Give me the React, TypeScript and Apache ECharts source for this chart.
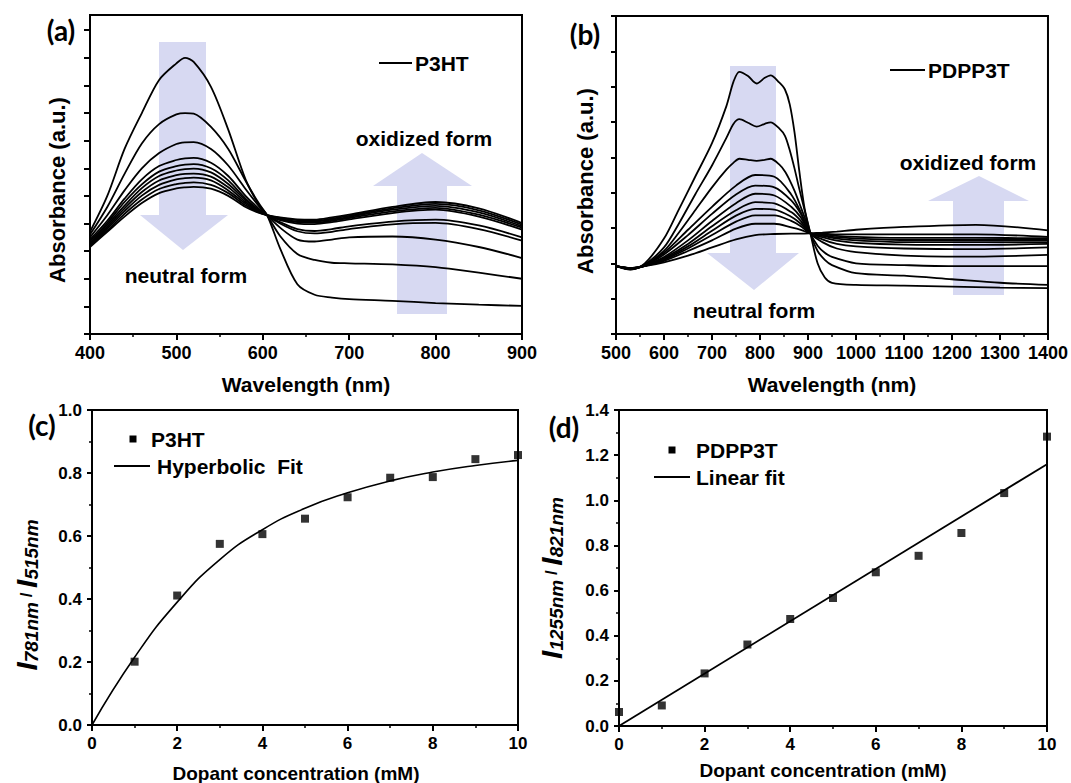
import React, { useEffect, useRef } from "react";
import * as echarts from "echarts";

// ---------- Panel (a): P3HT absorption spectra (arbitrary units, tick = 1) ----------
const waveA = [400, 420, 440, 460, 480, 500, 510, 520, 540, 560, 580, 595, 605, 620, 640, 660, 680, 700, 750, 800, 850, 900];
const p3ht1 = [3.7, 5.0, 6.7, 8.0, 9.2, 9.8, 10.0, 9.85, 8.95, 7.4, 5.6, 4.7, 4.3, 3.1, 1.8, 1.42, 1.32, 1.26, 1.2, 1.12, 1.06, 1.02];
const p3ht2 = [3.6, 4.6, 5.8, 6.9, 7.6, 7.95, 8.0, 7.98, 7.5, 6.7, 5.55, 4.75, 4.3, 3.55, 2.9, 2.68, 2.58, 2.56, 2.52, 2.42, 2.22, 2.0];
const p3ht3 = [3.5, 4.3, 5.2, 6.0, 6.55, 6.88, 6.94, 6.95, 6.7, 6.1, 5.25, 4.65, 4.3, 3.85, 3.42, 3.35, 3.42, 3.5, 3.53, 3.42, 3.15, 2.75];
const p3ht4 = [3.42, 4.1, 4.9, 5.6, 6.08, 6.3, 6.36, 6.38, 6.2, 5.72, 5.0, 4.55, 4.3, 4.0, 3.72, 3.64, 3.7, 3.8, 3.97, 4.02, 3.8, 3.38];
const p3ht5 = [3.36, 4.02, 4.78, 5.42, 5.88, 6.08, 6.13, 6.15, 6.0, 5.56, 4.9, 4.5, 4.3, 4.05, 3.8, 3.73, 3.8, 3.9, 4.07, 4.14, 3.93, 3.5];
const p3ht6 = [3.3, 3.95, 4.65, 5.28, 5.72, 5.92, 5.97, 5.99, 5.85, 5.43, 4.85, 4.48, 4.3, 4.12, 4.0, 3.98, 4.05, 4.15, 4.38, 4.5, 4.25, 3.78];
const p3ht7 = [3.26, 3.88, 4.55, 5.14, 5.56, 5.75, 5.8, 5.81, 5.7, 5.31, 4.78, 4.45, 4.3, 4.15, 4.05, 4.03, 4.1, 4.2, 4.44, 4.57, 4.32, 3.85];
const p3ht8 = [3.22, 3.82, 4.45, 5.01, 5.4, 5.6, 5.64, 5.66, 5.56, 5.2, 4.72, 4.43, 4.3, 4.17, 4.08, 4.07, 4.14, 4.24, 4.5, 4.64, 4.4, 3.9];
const p3ht9 = [3.18, 3.75, 4.35, 4.87, 5.25, 5.43, 5.47, 5.49, 5.4, 5.1, 4.66, 4.41, 4.3, 4.2, 4.12, 4.1, 4.18, 4.28, 4.55, 4.71, 4.48, 3.96];
const p3ht10 = [3.15, 3.7, 4.25, 4.74, 5.1, 5.27, 5.31, 5.33, 5.26, 5.0, 4.6, 4.39, 4.3, 4.22, 4.15, 4.14, 4.22, 4.32, 4.6, 4.78, 4.55, 4.02];
const p3htCurves = [p3ht1, p3ht2, p3ht3, p3ht4, p3ht5, p3ht6, p3ht7, p3ht8, p3ht9, p3ht10];
const absTicksA = [0, 1, 2, 3, 4, 5, 6, 7, 8, 9, 10, 11];

// ---------- Panel (b): PDPP3T absorption spectra ----------
const waveB1 = [500, 530, 560, 600, 630, 665, 700, 730, 745, 757, 775, 793, 810, 822, 840, 852, 862, 872, 882, 893, 905, 920, 935, 950, 1000, 1100, 1200, 1300, 1400];
const pdpp1 = [1.92, 1.82, 2.0, 2.7, 3.5, 4.45, 5.4, 6.45, 7.15, 7.42, 7.3, 7.09, 7.25, 7.32, 7.12, 6.92, 6.5, 5.7, 4.6, 3.55, 2.85, 2.0, 1.6, 1.45, 1.39, 1.37, 1.34, 1.31, 1.3];
const pdpp2 = [1.94, 1.83, 1.97, 2.45, 3.1, 3.95, 4.77, 5.55, 5.95, 6.08, 5.98, 5.87, 5.95, 5.99, 5.82, 5.61, 5.2, 4.68, 4.1, 3.5, 2.85, 2.35, 2.1, 1.95, 1.72, 1.65, 1.55, 1.45, 1.39];
const pdpp3 = [1.93, 1.84, 1.96, 2.35, 2.85, 3.5, 4.15, 4.65, 4.85, 4.96, 4.93, 4.9, 4.93, 4.96, 4.8, 4.6, 4.35, 4.05, 3.7, 3.3, 2.85, 2.5, 2.3, 2.18, 2.0, 1.95, 1.92, 1.92, 1.92];
const waveB = [500, 530, 560, 600, 650, 700, 750, 790, 830, 865, 885, 905, 930, 960, 1000, 1100, 1250, 1400];
const pdpp4 = [1.92, 1.84, 1.95, 2.3, 2.95, 3.6, 4.2, 4.5, 4.45, 3.95, 3.45, 2.85, 2.6, 2.42, 2.32, 2.22, 2.19, 2.24];
const pdpp5 = [1.92, 1.85, 1.94, 2.25, 2.8, 3.4, 3.95, 4.2, 4.15, 3.78, 3.4, 2.85, 2.68, 2.55, 2.48, 2.42, 2.4, 2.45];
const pdpp6 = [1.92, 1.85, 1.93, 2.18, 2.65, 3.2, 3.7, 3.97, 3.92, 3.6, 3.3, 2.85, 2.74, 2.64, 2.58, 2.53, 2.52, 2.55];
const pdpp7 = [1.92, 1.86, 1.93, 2.15, 2.55, 3.05, 3.5, 3.73, 3.7, 3.45, 3.2, 2.85, 2.78, 2.7, 2.65, 2.6, 2.6, 2.6];
const pdpp8 = [1.92, 1.86, 1.93, 2.12, 2.48, 2.92, 3.35, 3.54, 3.52, 3.32, 3.12, 2.85, 2.8, 2.74, 2.7, 2.66, 2.66, 2.66];
const pdpp9 = [1.92, 1.86, 1.93, 2.1, 2.42, 2.8, 3.18, 3.36, 3.36, 3.2, 3.05, 2.85, 2.82, 2.78, 2.75, 2.72, 2.72, 2.71];
const pdpp10 = [1.92, 1.87, 1.93, 2.07, 2.35, 2.65, 2.98, 3.12, 3.12, 3.02, 2.95, 2.85, 2.84, 2.82, 2.82, 2.82, 2.82, 2.75];
const pdpp11 = [1.92, 1.87, 1.92, 2.03, 2.22, 2.45, 2.68, 2.8, 2.83, 2.84, 2.84, 2.85, 2.87, 2.9, 2.95, 3.03, 3.09, 2.93];
const pdppDetailed = [pdpp1, pdpp2, pdpp3];
const pdppCoarse = [pdpp4, pdpp5, pdpp6, pdpp7, pdpp8, pdpp9, pdpp10, pdpp11];

// ---------- Panel (c): I781/I515 vs dopant ----------
const concC = [1, 2, 3, 4, 5, 6, 7, 8, 9, 10];
const ratioC = [0.201, 0.411, 0.575, 0.606, 0.655, 0.723, 0.785, 0.787, 0.844, 0.857];
const fitCx = [0, 1, 2, 3, 4, 5, 6, 7, 8, 9, 10];
const fitCy = [0.0, 0.215, 0.39, 0.525, 0.62, 0.688, 0.737, 0.775, 0.803, 0.824, 0.84];

// ---------- Panel (d): I1255/I821 vs dopant ----------
const concD = [0, 1, 2, 3, 4, 5, 6, 7, 8, 9, 10];
const ratioD = [0.062, 0.091, 0.233, 0.361, 0.474, 0.567, 0.681, 0.754, 0.855, 1.032, 1.282];
const fitDx = [0, 10];
const fitDy = [0.0, 1.16];

const FONT = "'Liberation Sans', Arial, Helvetica, sans-serif";
const PANEL_FONT = "Lato, 'Open Sans', sans-serif";
const ARROW = "#d7d9f2";

const zip = (xs: number[], ys: number[]) => xs.map((x, i) => [x, ys[i]]);

function xAxisCfg(gridIndex: number, min: number, max: number, interval: number, fontSize: number) {
  return {
    type: "value", gridIndex, min, max, interval,
    axisLine: { lineStyle: { color: "#000", width: 2 } },
    axisTick: { length: 6, lineStyle: { color: "#000", width: 2 } },
    minorTick: { show: true, splitNumber: 2, length: 3, lineStyle: { color: "#000", width: 1.5 } },
    splitLine: { show: false },
    axisLabel: { color: "#000", fontSize, fontWeight: "bold", fontFamily: FONT, margin: 10, formatter: (v: number) => `${v}` },
  };
}

function yAxisCfg(gridIndex: number, min: number, max: number, interval: number, labels: boolean, customTicks?: number[]) {
  return {
    type: "value", gridIndex, min, max, interval,
    axisLine: { show: true, lineStyle: { color: "#000", width: 2 } },
    axisTick: customTicks
      ? { show: true, length: 6, lineStyle: { color: "#000", width: 2 }, customValues: customTicks }
      : { show: true, length: 5, lineStyle: { color: "#000", width: 2 } },
    minorTick: labels ? { show: true, splitNumber: 2, length: 3, lineStyle: { color: "#000", width: 1.5 } } : { show: false },
    splitLine: { show: false },
    axisLabel: labels
      ? { show: true, color: "#000", fontSize: 17, fontWeight: "bold", fontFamily: FONT, margin: 10, formatter: (v: number) => v.toFixed(1) }
      : { show: false },
  };
}

function txt(text: string, x: number, y: number, size: number, opts: any = {}) {
  return {
    type: "text", x, y, z: 20, rotation: opts.rotation || 0,
    style: {
      text, fill: "#000", fontSize: size, fontWeight: "bold", fontFamily: opts.family || FONT,
      align: opts.align || "center", verticalAlign: "middle",
    },
  };
}

function hline(x1: number, x2: number, y: number) {
  return { type: "line", z: 20, shape: { x1, y1: y, x2, y2: y }, style: { stroke: "#000", lineWidth: 2 } };
}

function square(cx: number, cy: number, s: number) {
  return { type: "rect", z: 20, shape: { x: cx - s / 2, y: cy - s / 2, width: s, height: s }, style: { fill: "#000" } };
}

function arrowDown(x1: number, x2: number, top: number, hx1: number, hx2: number, base: number, tipX: number, tipY: number) {
  return {
    type: "polygon", z: 0,
    shape: { points: [[x1, top], [x2, top], [x2, base], [hx2, base], [tipX, tipY], [hx1, base], [x1, base]] },
    style: { fill: ARROW },
  };
}

function arrowUp(x1: number, x2: number, bottom: number, hx1: number, hx2: number, base: number, tipX: number, tipY: number) {
  return {
    type: "polygon", z: 0,
    shape: { points: [[x1, bottom], [x2, bottom], [x2, base], [hx2, base], [tipX, tipY], [hx1, base], [x1, base]] },
    style: { fill: ARROW },
  };
}

function ratioTitle(x: number, y: number, sub1: string, sub2: string) {
  const base = { fontFamily: FONT, fontWeight: "bold", fontStyle: "italic", fill: "#000" };
  return {
    type: "text", x, y, z: 20, rotation: Math.PI / 2,
    style: {
      text: `{i|I}{s|${sub1}}{sl| / }{i|I}{s|${sub2}}`,
      align: "center", verticalAlign: "middle",
      rich: {
        i: { ...base, fontSize: 30, lineHeight: 30 },
        s: { ...base, fontSize: 19, lineHeight: 12, verticalAlign: "bottom" },
        sl: { ...base, fontStyle: "normal", fontSize: 17, lineHeight: 30, verticalAlign: "middle" },
      },
    },
  };
}

function buildOption() {
  const lineBase = { type: "line", showSymbol: false, smooth: 0.3, silent: true, lineStyle: { color: "#000", width: 1.8 }, z: 2 };
  const series: any[] = [];
  p3htCurves.forEach((c, i) =>
    series.push({ ...lineBase, name: `P3HT ${i + 1}`, xAxisIndex: 0, yAxisIndex: 0, data: zip(waveA, c) })
  );
  pdppDetailed.forEach((c, i) =>
    series.push({ ...lineBase, name: `PDPP3T ${i + 1}`, xAxisIndex: 1, yAxisIndex: 1, data: zip(waveB1, c) })
  );
  pdppCoarse.forEach((c, i) =>
    series.push({ ...lineBase, name: `PDPP3T ${i + 4}`, xAxisIndex: 1, yAxisIndex: 1, data: zip(waveB, c) })
  );
  series.push({ ...lineBase, name: "Hyperbolic Fit", smooth: 0.5, lineStyle: { color: "#000", width: 1.6 }, xAxisIndex: 2, yAxisIndex: 2, data: zip(fitCx, fitCy) });
  series.push({ type: "scatter", name: "P3HT", symbol: "rect", symbolSize: 8, itemStyle: { color: "#000" }, xAxisIndex: 2, yAxisIndex: 2, data: zip(concC, ratioC), z: 3 });
  series.push({ ...lineBase, name: "Linear fit", smooth: false, lineStyle: { color: "#000", width: 1.8 }, xAxisIndex: 3, yAxisIndex: 3, data: zip(fitDx, fitDy) });
  series.push({ type: "scatter", name: "PDPP3T", symbol: "rect", symbolSize: 8, itemStyle: { color: "#000" }, xAxisIndex: 3, yAxisIndex: 3, data: zip(concD, ratioD), z: 3 });

  const gridBase = { show: true, borderColor: "#000", borderWidth: 2, backgroundColor: "transparent", containLabel: false };

  return {
    animation: false,
    backgroundColor: "#fff",
    grid: [
      { ...gridBase, left: 90, top: 15, width: 432, height: 319 },
      { ...gridBase, left: 616, top: 16, width: 432, height: 318 },
      { ...gridBase, left: 92, top: 410, width: 426, height: 315 },
      { ...gridBase, left: 619, top: 410, width: 428, height: 316 },
    ],
    xAxis: [
      xAxisCfg(0, 400, 900, 100, 18),
      xAxisCfg(1, 500, 1400, 100, 18),
      xAxisCfg(2, 0, 10, 2, 17),
      xAxisCfg(3, 0, 10, 2, 17),
    ],
    yAxis: [
      yAxisCfg(0, 0, 11.55, 1, false, absTicksA),
      yAxisCfg(1, 0, 9, 1, false),
      yAxisCfg(2, 0, 1.0, 0.2, true),
      yAxisCfg(3, 0, 1.4, 0.2, true),
    ],
    series,
    graphic: [
      // arrows
      arrowDown(159, 206, 42, 140, 228, 215, 183, 250),
      arrowUp(397, 447, 314, 373, 472, 186, 422, 153),
      arrowDown(730, 776, 66, 707, 799, 253, 754, 290),
      arrowUp(953, 1004, 295, 928, 1029, 201, 979, 176),
      // panel labels
      txt("(a)", 61, 30, 28, { family: PANEL_FONT }),
      txt("(b)", 585, 34, 28, { family: PANEL_FONT }),
      txt("(c)", 42, 425, 28, { family: PANEL_FONT }),
      txt("(d)", 564, 427, 28, { family: PANEL_FONT }),
      // axis titles
      txt("Absorbance (a.u.)", 57, 190, 22, { rotation: Math.PI / 2 }),
      txt("Absorbance (a.u.)", 585, 181, 22, { rotation: Math.PI / 2 }),
      txt("Wavelength (nm)", 306, 384, 21),
      txt("Wavelength (nm)", 832, 384, 21),
      txt("Dopant concentration (mM)", 296, 773, 19),
      txt("Dopant concentration (mM)", 823, 770, 19),
      ratioTitle(26, 595, "781nm", "515nm"),
      ratioTitle(551, 578, "1255nm", "821nm"),
      // annotations
      txt("neutral form", 186, 275, 21),
      txt("oxidized form", 424, 138, 21),
      txt("neutral form", 754, 310, 21),
      txt("oxidized form", 968, 162, 21),
      // legends
      hline(379, 412, 63),
      txt("P3HT", 415, 63, 21, { align: "left" }),
      hline(890, 925, 70),
      txt("PDPP3T", 928, 70, 21, { align: "left" }),
      square(133, 439, 7),
      txt("P3HT", 151, 439, 21, { align: "left" }),
      hline(114, 150, 466),
      txt("Hyperbolic  Fit", 157, 466, 21, { align: "left" }),
      square(672, 450, 7),
      txt("PDPP3T", 696, 450, 21, { align: "left" }),
      hline(654, 690, 477),
      txt("Linear fit", 696, 477, 21, { align: "left" }),
    ],
  };
}

export default function App() {
  const ref = useRef<HTMLDivElement>(null);
  useEffect(() => {
    if (!ref.current) return;
    const chart = echarts.init(ref.current, null, { renderer: "svg" });
    chart.setOption(buildOption() as any);
    return () => chart.dispose();
  }, []);
  return (
    <div
      ref={ref}
      style={{ position: "fixed", left: 0, top: 0, width: 1071, height: 783, background: "#fff" }}
    />
  );
}
